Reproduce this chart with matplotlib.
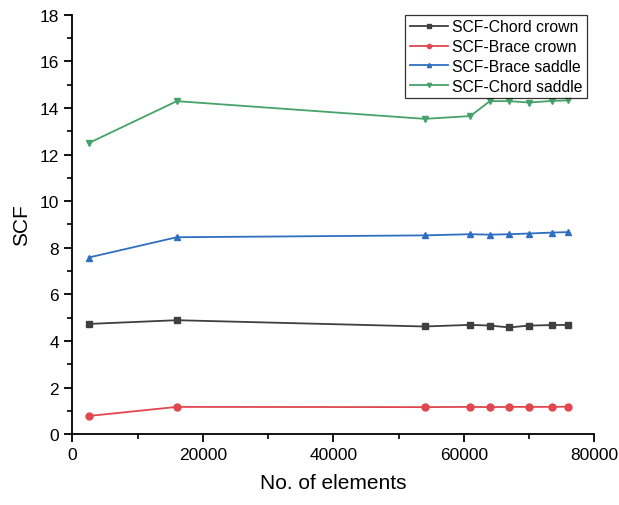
import matplotlib
matplotlib.use("Agg")
import matplotlib.pyplot as plt

plt.rcParams['font.family'] = ['Liberation Sans', 'DejaVu Sans']

# number of elements in each mesh
elements = [2500, 16000, 54000, 61000, 64000, 67000, 70000, 73500, 76000]

scf_chord_crown = [4.73, 4.89, 4.62, 4.69, 4.66, 4.58, 4.66, 4.68, 4.69]
scf_brace_crown = [0.78, 1.17, 1.16, 1.17, 1.16, 1.17, 1.17, 1.17, 1.18]
scf_brace_saddle = [7.58, 8.45, 8.53, 8.58, 8.56, 8.58, 8.61, 8.65, 8.67]
scf_chord_saddle = [12.49, 14.29, 13.53, 13.65, 14.29, 14.29, 14.23, 14.30, 14.32]

series = [
    ('SCF-Chord crown', scf_chord_crown, '#3f3f3f', 's'),
    ('SCF-Brace crown', scf_brace_crown, '#e0474f', 'o'),
    ('SCF-Brace saddle', scf_brace_saddle, '#2f6fbf', '^'),
    ('SCF-Chord saddle', scf_chord_saddle, '#47a26a', 'v'),
]

fig = plt.figure(figsize=(6.19, 5.06), dpi=100, facecolor='white')
ax = fig.add_axes([0.117, 0.14, 0.843, 0.829])

for label, vals, color, marker in series:
    ax.plot(elements, vals, color=color, marker=marker, markersize=5,
            linewidth=1.3, label=label)

ax.set_xlim(0, 80000)
ax.set_ylim(0, 18)
ax.set_xticks(range(0, 80001, 20000))
ax.set_xticks(range(0, 80001, 10000), minor=True)
ax.set_yticks(range(0, 19, 2))
ax.set_yticks(range(0, 19, 1), minor=True)

for side in ['top', 'right']:
    ax.spines[side].set_visible(False)
for side in ['left', 'bottom']:
    ax.spines[side].set_linewidth(1.3)

ax.tick_params(which='major', direction='out', length=6, width=1.3, labelsize=12.5)
ax.tick_params(which='minor', direction='out', length=3.5, width=1.2)

ax.set_xlabel('No. of elements', fontsize=15, labelpad=8)
ax.set_ylabel('SCF', fontsize=15, labelpad=6)

leg = ax.legend(loc='upper right', bbox_to_anchor=(0.987, 1.0), fontsize=11.3,
                frameon=True, fancybox=False, edgecolor='black',
                handlelength=2.4, markerscale=0.6, borderpad=0.3,
                labelspacing=0.3, handletextpad=0.3, borderaxespad=0)
leg.get_frame().set_linewidth(0.9)

fig.savefig('out.png', dpi=100, facecolor='white')
